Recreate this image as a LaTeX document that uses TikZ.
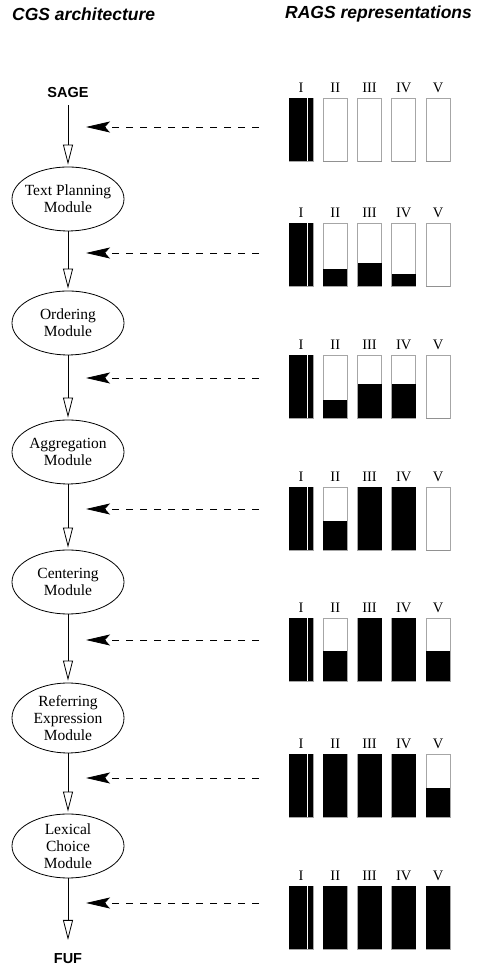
\documentclass[tikz,border=0pt]{standalone}
\usepackage{fontspec}
\setmainfont{Liberation Serif}
\setsansfont{Liberation Sans}
\usetikzlibrary{arrows.meta,shapes.geometric,positioning}

\begin{document}
\begin{tikzpicture}[x=1pt,y=1pt,
		modul/.style={draw, ellipse, line width=0.8pt, minimum width=112pt, minimum height=64pt, inner xsep=-8pt, inner ysep=0pt, align=center, font=\fontsize{15.5}{17}\selectfont},
		endpunkt/.style={font=\sffamily\bfseries\fontsize{14.5}{16}\selectfont, inner sep=0pt},
		fluss/.style={line width=0.8pt, -{Triangle[open,length=20pt,width=10pt]}, shorten >=2pt},
		zugriff/.style={line width=0.8pt, dash pattern=on 7pt off 7pt, -{Stealth[length=24pt,width=11pt,inset=5pt]}},
		kopf/.style={font=\sffamily\bfseries\itshape\fontsize{17.5}{20}\selectfont, inner sep=0pt, anchor=west},
		ziffer/.style={font=\fontsize{14.5}{16}\selectfont, inner sep=0pt, anchor=base},
		balken/.style={draw=gray!70, line width=0.7pt, fill=white}]
		\useasboundingbox (0,0) rectangle (479,966);

		% Ueberschriften
		\node[kopf] (cgs) at (12,952) {CGS architecture};
		\node[kopf] (rags) at (285,952) {RAGS representations};

		% Module
		\node[endpunkt] (sage) at (68,873) {SAGE};
		\node[modul] (tpm) at (68,767) {Text Planning\\Module};
		\node[modul] (ord) at (68,643) {Ordering\\Module};
		\node[modul] (agg) at (68,514) {Aggregation\\Module};
		\node[modul] (cen) at (68,384) {Centering\\Module};
		\node[modul, minimum height=70pt] (ref) at (68,248) {Referring\\Expression\\Module};
		\node[modul] (lex) at (68,120) {Lexical\\Choice\\Module};
		\node[endpunkt, anchor=north] (fuf) at (68,12.5) {FUF};

		% Pfeile
		\draw[fluss, shorten <=7pt] (sage) -- (tpm);
		\draw[fluss] (tpm) -- (ord);
		\draw[fluss] (ord) -- (agg);
		\draw[fluss] (agg) -- (cen);
		\draw[fluss] (cen) -- (ref);
		\draw[fluss] (ref) -- (lex);
		\draw[fluss, shorten >=13.5pt] (lex) -- (fuf);

		% Balken
		\foreach \yt/\ya/\fl [count=\g] in {868/839/{1,0,0,0,0}, 743/713/{1,.28,.375,.19,0}, 611/588/{1,.29,.55,.55,0}, 479/457/{1,.47,1,1,0}, 348/326/{1,.48,1,1,.48}, 212/188/{1,1,1,1,.47}, 80/63/{1,1,1,1,1}}{
			\foreach \f [count=\i from 0] in \fl {
				\draw[balken] (289+34.25*\i,\yt) rectangle ++(24,-63.5);
				\fill[black] (289+34.25*\i,\yt-63.5) rectangle ++(24,63.5*\f);
			}
			\draw[white, line width=1pt] (307.7,\yt) -- ++(0,-63.5);
			\foreach \r [count=\i from 0] in {I,II,III,IV,V}
				\node[ziffer] (z\g\r) at (301+34.25*\i,\yt+5) {\r};
			\coordinate (quelle\g) at (259,\ya);
			\coordinate (ziel\g) at (86,\ya);
			\draw[zugriff] (quelle\g) -- (ziel\g);
		}
	\end{tikzpicture}
\end{document}
